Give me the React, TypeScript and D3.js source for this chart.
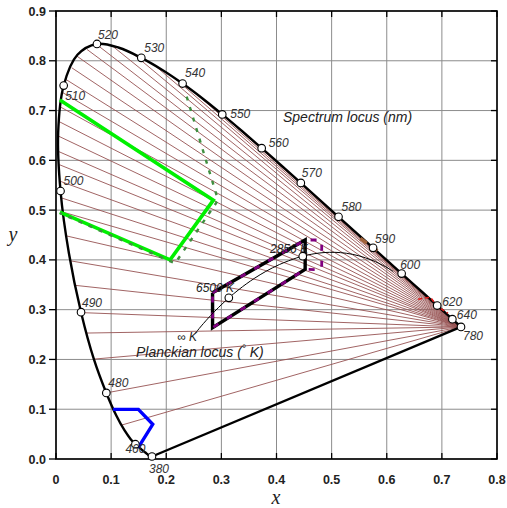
import React from "react";
import * as d3 from "d3";

const W = 507;
const H = 508;

// CIE 1931 spectrum locus (chromaticity x, y) every 5 nm
const locusNm = [380,385,390,395,400,405,410,415,420,425,430,435,440,445,450,455,460,465,470,475,480,485,490,495,500,505,510,515,520,525,530,535,540,545,550,555,560,565,570,575,580,585,590,595,600,605,610,615,620,625,630,635,640,645,650,655,660,665,670,675,680,780];
const locusX = [0.1741,0.1740,0.1738,0.1736,0.1733,0.1730,0.1726,0.1721,0.1714,0.1703,0.1689,0.1669,0.1644,0.1611,0.1566,0.1510,0.1440,0.1355,0.1241,0.1096,0.0913,0.0687,0.0454,0.0235,0.0082,0.0039,0.0139,0.0389,0.0743,0.1142,0.1547,0.1929,0.2296,0.2658,0.3016,0.3373,0.3731,0.4087,0.4441,0.4788,0.5125,0.5448,0.5752,0.6029,0.6270,0.6482,0.6658,0.6801,0.6915,0.7006,0.7079,0.7140,0.7190,0.7230,0.7260,0.7283,0.7300,0.7311,0.7320,0.7327,0.7334,0.7347];
const locusY = [0.0050,0.0050,0.0049,0.0049,0.0048,0.0048,0.0048,0.0048,0.0051,0.0058,0.0069,0.0086,0.0109,0.0138,0.0177,0.0227,0.0297,0.0399,0.0578,0.0868,0.1327,0.2007,0.2950,0.4127,0.5384,0.6548,0.7502,0.8120,0.8338,0.8262,0.8059,0.7816,0.7543,0.7243,0.6923,0.6589,0.6245,0.5896,0.5547,0.5202,0.4866,0.4544,0.4242,0.3965,0.3725,0.3514,0.3340,0.3197,0.3083,0.2993,0.2920,0.2859,0.2809,0.2770,0.2740,0.2717,0.2700,0.2689,0.2680,0.2673,0.2666,0.2653];

const markedNm = [380,460,480,490,500,510,520,530,540,550,560,570,580,590,600,620,640,780];

// Planckian locus (K) with chromaticity
const planckK = [25000,20000,15000,10000,8000,7000,6500,6000,5500,5000,4500,4000,3500,3000,2856,2600,2400,2200,2000,1800,1600,1500,1400,1300];
const planckX = [0.2524,0.2565,0.2637,0.2807,0.2952,0.3064,0.3135,0.3221,0.3325,0.3451,0.3608,0.3805,0.4053,0.4369,0.4476,0.4682,0.4862,0.5056,0.5267,0.5493,0.5732,0.5857,0.5985,0.6117];
const planckY = [0.2522,0.2577,0.2674,0.2884,0.3048,0.3166,0.3237,0.3318,0.3411,0.3516,0.3636,0.3768,0.3907,0.4041,0.4074,0.4123,0.4147,0.4152,0.4133,0.4082,0.3993,0.3931,0.3858,0.3769];
const planckMarkedK = [6500, 2856];

// confusion lines converging at the long-wave end: y-intercept (at x = 0) of each line
const confusionIntercepts = [0.030,0.114,0.194,0.252,0.296,0.353,0.403,0.453,0.500,0.528,0.561,0.594,0.620,0.651,0.681,0.712,0.744,0.775,0.807,0.839,0.869,0.896,0.921,0.943,0.960,0.972,0.982,0.990];

// colour regions
const greenX = [0.007,0.2855,0.207,0.007];
const greenY = [0.721,0.520,0.400,0.496];
const greenDashX = [0.237,0.294,0.216,0.007];
const greenDashY = [0.728,0.520,0.393,0.494];
const greyX = [0.284,0.452,0.452,0.284,0.284];
const greyY = [0.334,0.440,0.381,0.264,0.334];
const purpleX = [0.284,0.452,0.482,0.482,0.452,0.284,0.284];
const purpleY = [0.334,0.440,0.440,0.380,0.381,0.264,0.334];
const blueX = [0.1035,0.1494,0.1755,0.1494];
const blueY = [0.0997,0.0997,0.0697,0.0235];
const redX = [0.657,0.679,0.6915,0.711];
const redY = [0.321,0.325,0.307,0.293];
const brownX = [0.552,0.590];
const brownY = [0.443,0.413];

const xTicks = [0,0.1,0.2,0.3,0.4,0.5,0.6,0.7,0.8];
const yTicks = [0,0.1,0.2,0.3,0.4,0.5,0.6,0.7,0.8,0.9];

const labelOffset: Record<number, [number, number]> = {
  380: [-3, 16.5], 460: [-10, 9], 480: [2, -6], 490: [1, -5.5], 500: [3, -6],
  510: [1.5, 14.6], 520: [1, -5], 530: [3, -6], 540: [2.5, -7], 550: [8, 4],
  560: [7, -1.3], 570: [1, -6], 580: [3, -6], 590: [2, -5], 600: [-1.5, -5],
  620: [5, 0], 640: [4.5, 0], 780: [2, 13],
};

export default function App() {
  const x = d3.scaleLinear().domain([0, 0.8]).range([56, 497]);
  const y = d3.scaleLinear().domain([0, 0.9]).range([459, 11]);

  const locusPts: [number, number][] = locusX.map((v, i) => [v, locusY[i]]);
  const line = d3.line<[number, number]>().x((d) => x(d[0])).y((d) => y(d[1]));
  const smooth = d3.line<[number, number]>().x((d) => x(d[0])).y((d) => y(d[1])).curve(d3.curveCatmullRom);
  const zip = (a: number[], b: number[]) => a.map((v, i) => [v, b[i]] as [number, number]);

  const cx0 = locusX[locusX.length - 1];
  const cy0 = locusY[locusY.length - 1];
  const fan = confusionIntercepts.map((y0) => {
    const s = (cy0 - y0) / cx0;
    let best: [number, number] | null = null;
    for (let i = 0; i < locusPts.length - 1; i++) {
      const [x1, y1] = locusPts[i];
      const [x2, y2] = locusPts[i + 1];
      const f1 = y1 - (y0 + s * x1);
      const f2 = y2 - (y0 + s * x2);
      if (f1 * f2 <= 0 && f1 !== f2) {
        const t = f1 / (f1 - f2);
        const xi = x1 + t * (x2 - x1);
        const yi = y1 + t * (y2 - y1);
        if (xi < cx0 - 0.02 && (!best || xi < best[0])) best = [xi, yi];
      }
    }
    return best;
  });

  const font = "'Liberation Sans', Arial, sans-serif";
  const serif = "'Liberation Serif', 'Times New Roman', serif";

  return (
    <div style={{ position: "fixed", left: 0, top: 0 }}>
      <svg width={W} height={H} style={{ display: "block", background: "#fff" }}>
        <rect x={0} y={0} width={W} height={H} fill="#fff" />
        {/* grid */}
        {xTicks.map((t) => (
          <line key={"gx" + t} x1={x(t)} x2={x(t)} y1={y(0)} y2={y(0.9)} stroke="#8c8c8c" strokeWidth={1} />
        ))}
        {yTicks.map((t) => (
          <line key={"gy" + t} x1={x(0)} x2={x(0.8)} y1={y(t)} y2={y(t)} stroke="#8c8c8c" strokeWidth={1} />
        ))}
        {/* fan of confusion lines */}
        {fan.map((p, i) =>
          p ? (
            <line key={"f" + i} x1={x(cx0)} y1={y(cy0)} x2={x(p[0])} y2={y(p[1])} stroke="#965252" strokeWidth={0.9} />
          ) : null
        )}
        {/* spectrum locus and purple line */}
        <path d={smooth(locusPts) || ""} fill="none" stroke="#000" strokeWidth={2.4} />
        <path d={line([locusPts[locusPts.length - 1], locusPts[0]]) || ""} fill="none" stroke="#000" strokeWidth={2.4} />
        {/* colour regions */}
        <path d={line(zip(brownX, brownY)) || ""} fill="none" stroke="#a0623a" strokeWidth={3.5} strokeDasharray="8 5" />
        <path d={line(zip(greenX, greenY)) || ""} fill="none" stroke="#00f000" strokeWidth={3.6} strokeLinejoin="miter" />
        <path d={line(zip(greenDashX, greenDashY)) || ""} fill="none" stroke="#3f8f3f" strokeWidth={2.4} strokeDasharray="4 7" />
        <path d={line(zip(greyX, greyY)) || ""} fill="none" stroke="#000" strokeWidth={3.4} />
        <path d={line(zip(purpleX, purpleY)) || ""} fill="none" stroke="#800080" strokeWidth={2.8} strokeDasharray="6 10" />
        <path d={line(zip(blueX, blueY)) || ""} fill="none" stroke="#0000ff" strokeWidth={3.4} />
        <path d={line(zip(redX, redY)) || ""} fill="none" stroke="#e01818" strokeWidth={1.6} strokeDasharray="4 3" />
        {/* Planckian locus */}
        <path d={smooth(zip(planckX, planckY)) || ""} fill="none" stroke="#000" strokeWidth={1} />
        {planckMarkedK.map((k) => {
          const i = planckK.indexOf(k);
          return <circle key={"pk" + k} cx={x(planckX[i])} cy={y(planckY[i])} r={3.8} fill="#fff" stroke="#000" strokeWidth={1.1} />;
        })}
        {/* frame */}
        <rect x={x(0)} y={y(0.9)} width={x(0.8) - x(0)} height={y(0) - y(0.9)} fill="none" stroke="#000" strokeWidth={1.6} />
        {yTicks.map((t) => (
          <g key={"ty" + t}>
            <line x1={x(0) - 7} x2={x(0)} y1={y(t)} y2={y(t)} stroke="#000" strokeWidth={1.3} />
            <line x1={x(0.8) - 6} x2={x(0.8)} y1={y(t)} y2={y(t)} stroke="#000" strokeWidth={1.3} />
            <text x={46} y={y(t)} dy="0.36em" textAnchor="end" fontFamily={font} fontWeight="bold" fontSize={12.5} fill="#222">
              {t.toFixed(1)}
            </text>
          </g>
        ))}
        {xTicks.map((t) => (
          <g key={"tx" + t}>
            <line x1={x(t)} x2={x(t)} y1={y(0)} y2={y(0) - 6} stroke="#000" strokeWidth={1.3} />
            <line x1={x(t)} x2={x(t)} y1={y(0.9)} y2={y(0.9) + 6} stroke="#000" strokeWidth={1.3} />
            <text x={x(t)} y={484} textAnchor="middle" fontFamily={font} fontWeight="bold" fontSize={12.5} fill="#222">
              {t === 0 ? "0" : t.toFixed(1)}
            </text>
          </g>
        ))}
        {/* spectral markers */}
        {markedNm.map((nm) => {
          const i = locusNm.indexOf(nm);
          const px = x(locusX[i]);
          const py = y(locusY[i]);
          const [dx, dy] = labelOffset[nm];
          return (
            <g key={"m" + nm}>
              <circle cx={px} cy={py} r={3.8} fill="#fff" stroke="#000" strokeWidth={1.1} />
              <text x={px + dx} y={py + dy} fontFamily={font} fontStyle="italic" fontSize={12} fill="#333">
                {nm}
              </text>
            </g>
          );
        })}
        {/* annotations */}
        <text x={283} y={122} fontFamily={font} fontStyle="italic" fontSize={14} fill="#222">Spectrum locus (nm)</text>
        <text x={136} y={357} fontFamily={font} fontStyle="italic" fontSize={14} fill="#222">
          Planckian locus (<tspan fontSize={10} dy={-5}>°</tspan><tspan dy={5}> K)</tspan>
        </text>
        <text x={196} y={292} fontFamily={font} fontStyle="italic" fontSize={12} fill="#222">6500 K</text>
        <text x={270} y={253} fontFamily={font} fontStyle="italic" fontSize={12} fill="#222">2856 K</text>
        <text x={177} y={341} fontFamily={font} fontStyle="italic" fontSize={12} fill="#222">∞ K</text>
        {/* axis titles */}
        <text x={276} y={504} textAnchor="middle" fontFamily={serif} fontStyle="italic" fontSize={20} fill="#222">x</text>
        <text x={13} y={241} textAnchor="middle" fontFamily={serif} fontStyle="italic" fontSize={20} fill="#222">y</text>
      </svg>
    </div>
  );
}
